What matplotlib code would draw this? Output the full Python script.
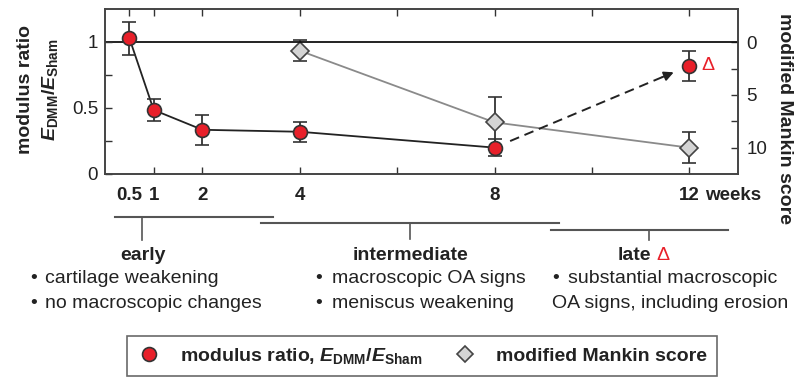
import matplotlib
matplotlib.use('Agg')
import matplotlib.pyplot as plt
from matplotlib.lines import Line2D

plt.rcParams['font.family'] = 'Liberation Sans'
plt.rcParams['mathtext.fontset'] = 'custom'
plt.rcParams['mathtext.rm'] = 'Liberation Sans:bold'
plt.rcParams['mathtext.it'] = 'Liberation Sans:italic:bold'
plt.rcParams['mathtext.bf'] = 'Liberation Sans:bold'

# data
weeks = [0.5, 1, 2, 4, 8, 12]
modulus = [1.03, 0.485, 0.335, 0.32, 0.20, 0.82]
modulus_err = [0.125, 0.08, 0.115, 0.075, 0.065, 0.115]
mankin_weeks = [4, 8, 12]
mankin = [0.8, 7.6, 10.0]
mankin_err = [1.0, 2.4, 1.5]

xtick_pos = [0.5, 1, 2, 4, 6, 8, 10, 12]
xtick_lab = ['0.5', '1', '2', '4', '', '8', '', '12']

W, H = 801, 380
def fx(x):
    return x / W
def fy(y):
    return 1 - y / H

dark = '#333333'
red = '#e8202a'
gray_fill = '#d4d4d4'

fig = plt.figure(figsize=(W / 100, H / 100), dpi=100)
ax = fig.add_axes([fx(105), fy(174), fx(738) - fx(105), fy(9) - fy(174)])
ax2 = ax.twinx()
ax.set_zorder(ax2.get_zorder() + 1)
ax.patch.set_visible(False)

# mankin score on right axis
ax2.errorbar(mankin_weeks, mankin, yerr=mankin_err, color='#8a8a8a', lw=1.3,
             marker='D', ms=9, mfc=gray_fill, mec='#444444', mew=1.2,
             ecolor=dark, elinewidth=1.3, capsize=5, capthick=1.3)
ax2.set_ylim(12.5, -3.16)
ax2.set_yticks([0, 2.5, 5, 7.5, 10])
ax2.set_yticklabels(['0', '', '5', '', '10'])

# modulus ratio on left axis
ax.axhline(1, color='#111111', lw=1.3, zorder=1)
ax.plot(weeks[:-1], modulus[:-1], color='#222222', lw=1.3, zorder=2)
ax.errorbar(weeks, modulus, yerr=modulus_err, ls='none', marker='o', ms=10,
            mfc=red, mec=dark, mew=1.2, ecolor=dark, elinewidth=1.3,
            capsize=5, capthick=1.3, zorder=3)

# dashed arrow from 8 weeks to 12 weeks
x0, y0 = weeks[-2], modulus[-2]
x1, y1 = weeks[-1], modulus[-1]
t0, t1 = 0.08, 0.92
sx, sy = x0 + t0 * (x1 - x0), y0 + t0 * (y1 - y0)
ex, ey = x0 + t1 * (x1 - x0), y0 + t1 * (y1 - y0)
mx, my = x0 + 0.86 * (x1 - x0), y0 + 0.86 * (y1 - y0)
ax.plot([sx, mx], [sy, my], color='#222222', lw=1.4, ls=(0, (5, 3)), zorder=2)
ax.annotate('', xy=(ex, ey), xytext=(mx, my),
            arrowprops=dict(arrowstyle='-|>', color='#222222', lw=1.4,
                            mutation_scale=14, shrinkA=0, shrinkB=0), zorder=2)
ax.annotate('\u0394', xy=(x1, y1), xytext=(9, 0), textcoords='offset points',
            color=red, fontsize=14, va='center', ha='left')

ax.set_xlim(0, 13)
ax.set_ylim(0, 1.25)
ax.set_yticks([0, 0.25, 0.5, 0.75, 1])
ax.set_yticklabels(['0', '', '0.5', '', '1'])
ax.set_xticks(xtick_pos)
ax.set_xticklabels(xtick_lab, fontweight='bold')
ax.xaxis.get_major_ticks()[0].tick1line.set_visible(False)
ax.xaxis.get_major_ticks()[0].tick2line.set_visible(False)

ax.tick_params(axis='x', direction='in', length=5, width=1, color=dark,
               top=True, labelsize=13.5, pad=9, labelcolor='#222222')
ax.tick_params(axis='y', direction='in', length=5, width=1, color=dark,
               labelsize=13.5, pad=5, labelcolor='#222222')
ax2.tick_params(axis='y', direction='in', length=5, width=1, color=dark,
                labelsize=13.5, pad=6, labelcolor='#222222')
for a in (ax, ax2):
    for s in a.spines.values():
        s.set_color('#444444')
        s.set_linewidth(1.2)

# "weeks" next to the last tick label, same baseline as the tick labels
ax.annotate('weeks', xy=(weeks[-1], 0), xycoords=('data', 'axes fraction'),
            xytext=(11, -9), textcoords='offset points', ha='left', va='top',
            fontsize=13.5, fontweight='bold', color='#222222')

# axis titles
fig.text(fx(26), fy(90), 'modulus ratio', rotation=90, fontsize=14,
         fontweight='bold', ha='center', va='center', color='#222222')
fig.text(fx(50), fy(90), r'$\mathit{E}_\mathrm{DMM}/\mathit{E}_\mathrm{Sham}$',
         rotation=90, fontsize=14, ha='center', va='center', color='#222222')
fig.text(fx(785), fy(118), 'modified Mankin score', rotation=270, fontsize=14,
         fontweight='bold', ha='center', va='center', color='#222222')

# stage brackets
bracket_color = '#555555'
brackets = [(115, 273, 217, 142, 240), (261, 559, 223, 410, 239), (551, 728, 230, 649, 240)]
for xa, xb, yb, xv, yv in brackets:
    fig.add_artist(Line2D([fx(xa), fx(xb)], [fy(yb), fy(yb)], color=bracket_color,
                          lw=1.5, transform=fig.transFigure))
    fig.add_artist(Line2D([fx(xv), fx(xv)], [fy(yb), fy(yv)], color=bracket_color,
                          lw=1.2, transform=fig.transFigure))

txt = dict(fontsize=14, color='#222222', va='baseline')
fig.text(fx(143), fy(260), 'early', ha='center', fontweight='bold', **txt)
fig.text(fx(410), fy(260), 'intermediate', ha='center', fontweight='bold', **txt)
fig.text(fx(651), fy(260), 'late', ha='right', fontweight='bold', **txt)
fig.text(fx(656), fy(260), '\u0394', ha='left', fontsize=14, color=red, va='baseline')

bullets = [
    (30, 45, 283, 'cartilage weakening'),
    (30, 45, 308, 'no macroscopic changes'),
    (315, 332, 283, 'macroscopic OA signs'),
    (315, 332, 308, 'meniscus weakening'),
    (552, 568, 283, 'substantial macroscopic'),
]
for xb, xt, yb, s in bullets:
    fig.text(fx(xb), fy(yb), '\u2022', ha='left', **txt)
    fig.text(fx(xt), fy(yb), s, ha='left', **txt)
fig.text(fx(552), fy(308), 'OA signs, including erosion', ha='left', **txt)

# legend
handles = [
    Line2D([], [], ls='none', marker='o', ms=10, mfc=red, mec=dark, mew=1.2),
    Line2D([], [], ls='none', marker='D', ms=8, mfc=gray_fill, mec='#444444', mew=1.2),
]
labels = [r'modulus ratio, $\mathit{E}_\mathrm{DMM}/\mathit{E}_\mathrm{Sham}$',
          'modified Mankin score']
leg = fig.legend(handles, labels, loc='center', bbox_to_anchor=(fx(422), fy(356)),
                 ncol=2, frameon=True, fancybox=False, edgecolor='#444444',
                 prop=dict(size=14, weight='bold'), handlelength=1.2,
                 handletextpad=1.0, columnspacing=1.6, borderpad=0.5)
leg.get_frame().set_linewidth(1.2)
for t in leg.get_texts():
    t.set_color('#222222')

fig.savefig('out.png', dpi=100)
